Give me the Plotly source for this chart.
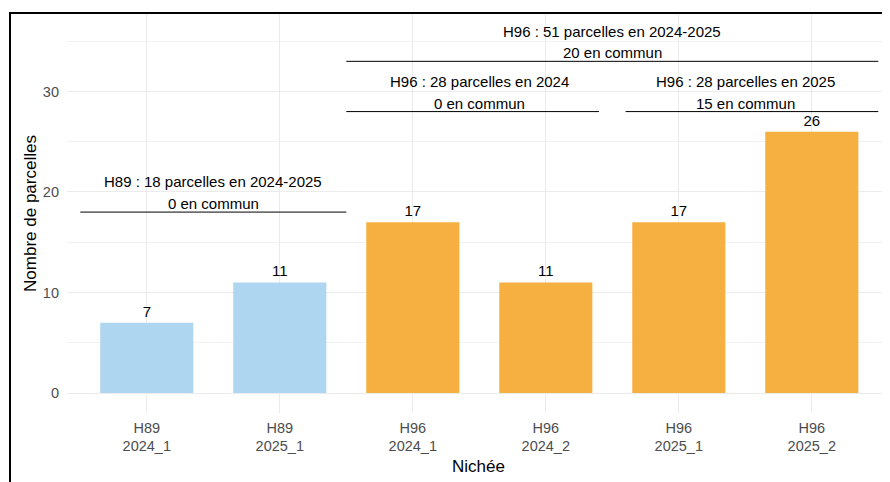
import plotly.graph_objects as go

# Data
nichees = ["H89", "H89", "H96", "H96", "H96", "H96"]
periodes = ["2024_1", "2025_1", "2024_1", "2024_2", "2025_1", "2025_2"]
nb_parcelles = [7, 11, 17, 11, 17, 26]
couleurs = ["#AED6F1", "#AED6F1", "#F5B041", "#F5B041", "#F5B041", "#F5B041"]

# Group annotations: (x start, x end, line y, title, common)
grp_x0 = [-0.5, 1.5, 1.5, 3.6]
grp_x1 = [1.5, 5.5, 3.4, 5.5]
grp_y = [18, 33, 28, 28]
grp_titles = ["H89 : 18 parcelles en 2024-2025", "H96 : 51 parcelles en 2024-2025",
              "H96 : 28 parcelles en 2024", "H96 : 28 parcelles en 2025"]
grp_commun = ["0 en commun", "20 en commun", "0 en commun", "15 en commun"]
grp_xtext = [0.5, 3.5, 2.5, 4.5]

cats = [f"{n}<br>{p}" for n, p in zip(nichees, periodes)]

fig = go.Figure()
fig.add_trace(go.Bar(
    x=list(range(len(cats))), y=nb_parcelles, marker=dict(color=couleurs, line=dict(width=0)),
    text=[str(v) for v in nb_parcelles], textposition="outside",
    textfont=dict(size=15, color="black", family="Liberation Sans, Arial, sans-serif"),
    cliponaxis=False, width=0.7, showlegend=False,
))

shapes = []
annotations = []
for x0, x1, y, t, c, xt in zip(grp_x0, grp_x1, grp_y, grp_titles, grp_commun, grp_xtext):
    shapes.append(dict(type="line", xref="x", yref="y", x0=x0, x1=x1, y0=y, y1=y,
                       line=dict(color="black", width=1)))
    annotations.append(dict(x=xt, y=y + 3.0, xref="x", yref="y", text=t, showarrow=False,
                            font=dict(size=15, color="black"), yanchor="middle"))
    annotations.append(dict(x=xt, y=y + 0.85, xref="x", yref="y", text=c, showarrow=False,
                            font=dict(size=15, color="black"), yanchor="middle"))

# page body has an 8px margin; compensate
W, H = 882, 474
L, R, T, B = 59, 0, 6, 69
pw = W - L - R
ph = H - T - B
fx = (2 - L) / pw
fy = 1 + (T - 5) / ph
shapes.append(dict(type="rect", xref="paper", yref="paper", x0=fx, x1=1.2, y0=-0.5, y1=fy,
                   line=dict(color="black", width=2), fillcolor="rgba(0,0,0,0)", layer="above"))

fig.update_layout(
    width=W, height=H, margin=dict(l=L, r=R, t=T, b=B),
    paper_bgcolor="white", plot_bgcolor="white",
    font=dict(family="Liberation Sans, Arial, sans-serif"),
    shapes=shapes, annotations=annotations, bargap=0.3,
)
fig.update_xaxes(
    tickmode="array", tickvals=list(range(len(cats))), ticktext=cats,
    range=[-0.6, -0.6 + pw / 133.0],
    showgrid=True, gridcolor="#EBEBEB", gridwidth=1.1, zeroline=False,
    tickfont=dict(size=14.5, color="#4D4D4D"), ticklabelstandoff=4,
    title=dict(text="Nichée", font=dict(size=17, color="black"), standoff=6),
    showline=False,
)
fig.update_yaxes(
    range=[-1.99, 37.71], tickvals=[0, 10, 20, 30],
    showgrid=True, gridcolor="#EBEBEB", gridwidth=1.1, zeroline=False,
    minor=dict(tickvals=[5, 15, 25, 35], showgrid=True, gridcolor="#F2F2F2", gridwidth=0.6),
    tickfont=dict(size=14.5, color="#4D4D4D"), ticklabelstandoff=7,
    title=dict(text="Nombre de parcelles", font=dict(size=17, color="black"), standoff=1),
    showline=False,
)

fig.write_html("out.html")
